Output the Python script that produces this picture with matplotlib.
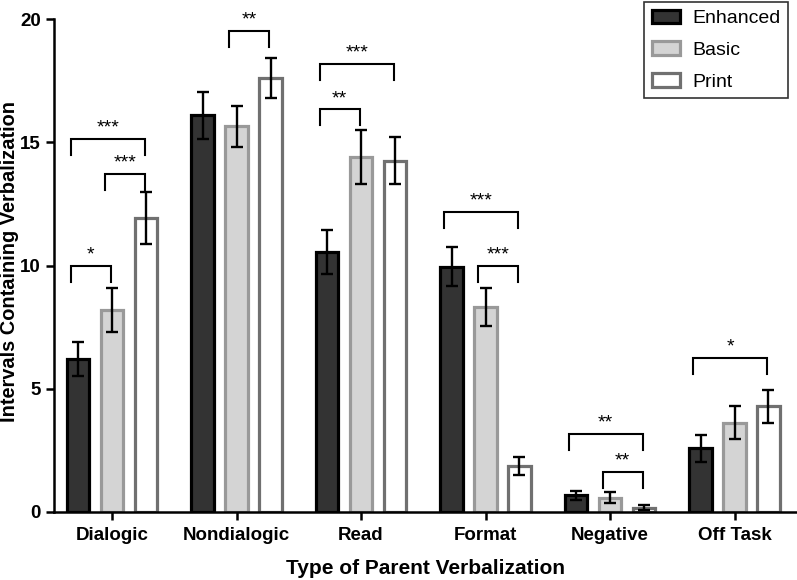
import numpy as np
import matplotlib.pyplot as plt
from matplotlib.patches import Patch

plt.rcParams['font.family'] = ['Liberation Sans', 'DejaVu Sans']

# data
categories = ['Dialogic', 'Nondialogic', 'Read', 'Format', 'Negative', 'Off Task']
groups = ['Enhanced', 'Basic', 'Print']
enhanced = [6.2, 16.1, 10.55, 9.95, 0.68, 2.58]
enhanced_err = [0.68, 0.95, 0.9, 0.79, 0.18, 0.55]
basic = [8.2, 15.65, 14.4, 8.3, 0.58, 3.63]
basic_err = [0.9, 0.83, 1.09, 0.77, 0.23, 0.68]
printed = [11.92, 17.6, 14.25, 1.87, 0.17, 4.28]
printed_err = [1.06, 0.8, 0.95, 0.36, 0.1, 0.67]

# significance brackets: (category index, bar a, bar b, height, label)
brackets = [
    (0, 0, 1, 10.0, '*'),
    (0, 0, 2, 15.15, '***'),
    (0, 1, 2, 13.7, '***'),
    (1, 1, 2, 19.5, '**'),
    (2, 0, 1, 16.33, '**'),
    (2, 0, 2, 18.18, '***'),
    (3, 0, 2, 12.16, '***'),
    (3, 1, 2, 10.0, '***'),
    (4, 0, 2, 3.15, '**'),
    (4, 1, 2, 1.63, '**'),
    (5, 0, 2, 6.25, '*'),
]

values = [enhanced, basic, printed]
errors = [enhanced_err, basic_err, printed_err]
fills = ['#333333', '#d4d4d4', '#ffffff']
edges = ['#000000', '#999999', '#707070']

fig = plt.figure(figsize=(7.97, 5.8), dpi=100)
ax = fig.add_axes([54 / 797, 1 - 512 / 580, 1 - 54 / 797, (512 - 19) / 580])

x = np.arange(len(categories))
offset = 0.273
width = 0.18
for k in range(3):
    xs = x + (k - 1) * offset
    ax.bar(xs, values[k], width, color=fills[k], edgecolor=edges[k],
           linewidth=2.3, zorder=2, label=groups[k])
    ax.errorbar(xs, values[k], yerr=errors[k], fmt='none', ecolor='black',
                elinewidth=1.7, capsize=4.5, capthick=1.7, zorder=3)

leg = 0.65
for ci, a, b, h, lab in brackets:
    x1 = ci + (a - 1) * offset - 0.06
    x2 = ci + (b - 1) * offset - 0.01
    ax.plot([x1, x1, x2, x2], [h - leg, h, h, h - leg], color='black',
            lw=1.5, solid_joinstyle='miter', zorder=4)
    ax.text((x1 + x2) / 2, h + 0.1, lab, ha='center', va='bottom',
            fontsize=14, zorder=4)

ax.set_xlim(-0.466, 5.502)
ax.set_ylim(0, 20)
ax.set_yticks([0, 5, 10, 15, 20])
ax.set_xticks(x)
ax.set_xticklabels(categories)
for s in ['top', 'right']:
    ax.spines[s].set_visible(False)
for s in ['left', 'bottom']:
    ax.spines[s].set_linewidth(1.8)
ax.tick_params(axis='both', width=1.8, length=6, direction='out', labelsize=13.5)
ax.tick_params(axis='x', pad=5)
for t in ax.get_xticklabels() + ax.get_yticklabels():
    t.set_fontweight('bold')
ax.set_xlabel('Type of Parent Verbalization', fontsize=15, fontweight='bold',
              va='center')
ax.set_ylabel('Intervals Containing Verbalization', fontsize=14.4, fontweight='bold',
              va='center')
ax.xaxis.set_label_coords((425 - 54) / (797 - 54), -(568 - 512) / (512 - 19))
ax.yaxis.set_label_coords(-(54 - 10) / (797 - 54), (512 - 262) / (512 - 19))

handles = [Patch(facecolor=fills[k], edgecolor=edges[k], linewidth=2.3) for k in range(3)]
lg = fig.legend(handles, groups, loc='upper right', bbox_to_anchor=(788 / 797, 1 - 2 / 580),
                fontsize=14, frameon=True, fancybox=False, edgecolor='black',
                handlelength=1.45, handleheight=0.7, labelspacing=0.72,
                borderpad=0.4, handletextpad=0.6, borderaxespad=0)
lg.get_frame().set_linewidth(1.2)

fig.savefig('out.png', dpi=100)
